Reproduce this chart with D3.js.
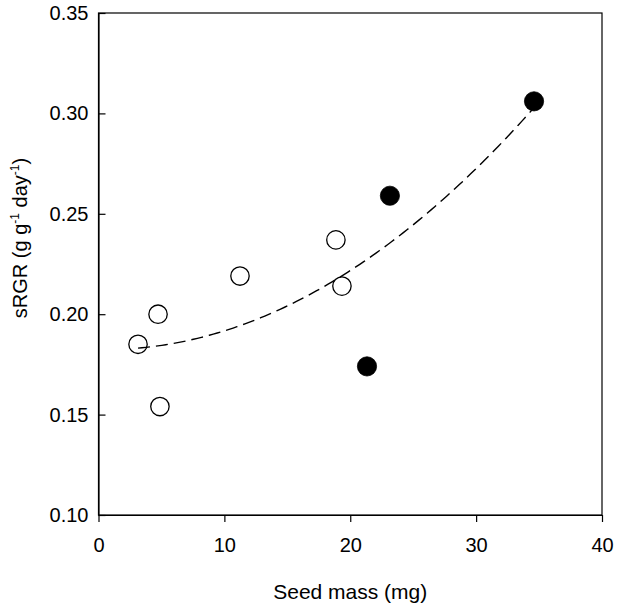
<!DOCTYPE html>
<html>
<head>
<meta charset="utf-8">
<script src="https://cdn.jsdelivr.net/npm/d3@7"></script>
<style>
  html, body { margin: 0; padding: 0; background: #fff; }
  svg { display: block; }
  text { font-family: "Liberation Sans", Arial, Helvetica, sans-serif; fill: #000; }
</style>
</head>
<body>
<svg id="chart" width="619" height="609"></svg>
<script>
// Data
const openSeedMass = [3.14, 4.73, 4.88, 11.24, 18.86, 19.34];
const openSRGR     = [0.185, 0.200, 0.154, 0.219, 0.237, 0.214];
const filledSeedMass = [21.33, 23.15, 34.6];
const filledSRGR     = [0.174, 0.259, 0.306];
const xTicks = [0, 10, 20, 30, 40];
const yTicks = [0.10, 0.15, 0.20, 0.25, 0.30, 0.35];
const xLabel = "Seed mass (mg)";

const svg = d3.select("#chart");
const mLeft = 98.5, mRight = 602, mTop = 13, mBottom = 515;

const x = d3.scaleLinear().domain([0, 40]).range([mLeft, mRight]);
const y = d3.scaleLinear().domain([0.10, 0.35]).range([mBottom, mTop]);

// Quadratic least-squares fit through all points (as in original regression line)
const allX = openSeedMass.concat(filledSeedMass);
const allY = openSRGR.concat(filledSRGR);
function quadFit(xs, ys) {
  const n = xs.length;
  let s = [0,0,0,0,0], t = [0,0,0];
  for (let i = 0; i < n; i++) {
    let p = 1;
    for (let k = 0; k < 5; k++) { s[k] += p; p *= xs[i]; }
    t[0] += ys[i]; t[1] += ys[i]*xs[i]; t[2] += ys[i]*xs[i]*xs[i];
  }
  const M = [[s[0],s[1],s[2],t[0]],[s[1],s[2],s[3],t[1]],[s[2],s[3],s[4],t[2]]];
  for (let i = 0; i < 3; i++) {
    for (let j = i+1; j < 3; j++) {
      const f = M[j][i]/M[i][i];
      for (let k = i; k < 4; k++) M[j][k] -= f*M[i][k];
    }
  }
  const c = [0,0,0];
  for (let i = 2; i >= 0; i--) {
    let v = M[i][3];
    for (let k = i+1; k < 3; k++) v -= M[i][k]*c[k];
    c[i] = v/M[i][i];
  }
  return c;
}
const coef = quadFit(allX, allY);
const xmin = d3.min(allX), xmax = d3.max(allX);
const curveX = d3.range(0, 101).map(i => xmin + (xmax - xmin) * i / 100);

// Frame
svg.append("rect")
  .attr("x", mLeft).attr("y", mTop)
  .attr("width", mRight - mLeft).attr("height", mBottom - mTop)
  .attr("fill", "none").attr("stroke", "#000").attr("stroke-width", 1.2);

// Axes
const yAxis = d3.axisLeft(y).tickValues(yTicks).tickFormat(d3.format(".2f"))
  .tickSizeInner(-7).tickSizeOuter(0).tickPadding(10);
const gy = svg.append("g").attr("transform", `translate(${mLeft},0)`).call(yAxis);
gy.select(".domain").attr("stroke", "#000").attr("stroke-width", 1.2);
gy.selectAll(".tick line").attr("stroke", "#000").attr("stroke-width", 1.2);
gy.selectAll(".tick text").style("font-size", "20px").attr("fill", "#000");

const xAxis = d3.axisBottom(x).tickValues(xTicks).tickFormat(d3.format("d"))
  .tickSizeInner(7).tickSizeOuter(0).tickPadding(16);
const gx = svg.append("g").attr("transform", `translate(0,${mBottom})`).call(xAxis);
gx.select(".domain").attr("stroke", "#000").attr("stroke-width", 1.2);
gx.selectAll(".tick line").attr("stroke", "#000").attr("stroke-width", 1.2);
gx.selectAll(".tick text").style("font-size", "20px").attr("fill", "#000");

// Points
const openPts = openSeedMass.map((d, i) => [d, openSRGR[i]]);
const filledPts = filledSeedMass.map((d, i) => [d, filledSRGR[i]]);
svg.append("g").selectAll("circle").data(openPts).join("circle")
  .attr("cx", d => x(d[0])).attr("cy", d => y(d[1])).attr("r", 9.2)
  .attr("fill", "none").attr("stroke", "#000").attr("stroke-width", 1.3);
svg.append("g").selectAll("circle").data(filledPts).join("circle")
  .attr("cx", d => x(d[0])).attr("cy", d => y(d[1])).attr("r", 9.6)
  .attr("fill", "#000").attr("stroke", "#000").attr("stroke-width", 0.8);

// Fitted curve
const line = d3.line()
  .x(d => x(d))
  .y(d => y(coef[0] + coef[1]*d + coef[2]*d*d));
svg.append("path").datum(curveX)
  .attr("d", line)
  .attr("fill", "none").attr("stroke", "#000").attr("stroke-width", 1.4)
  .attr("stroke-dasharray", "12,6");

// Axis titles
svg.append("text")
  .attr("x", (mLeft + mRight) / 2).attr("y", 598.5)
  .attr("text-anchor", "middle").style("font-size", "21px")
  .text(xLabel);

const yt = svg.append("text")
  .attr("transform", "translate(27,238) rotate(-90)")
  .attr("text-anchor", "middle").style("font-size", "20px");
yt.append("tspan").text("sRGR (g g");
yt.append("tspan").attr("dy", -8).style("font-size", "12px").text("-1");
yt.append("tspan").attr("dy", 8).text(" day");
yt.append("tspan").attr("dy", -8).style("font-size", "12px").text("-1");
yt.append("tspan").attr("dy", 8).text(")");
</script>
</body>
</html>
